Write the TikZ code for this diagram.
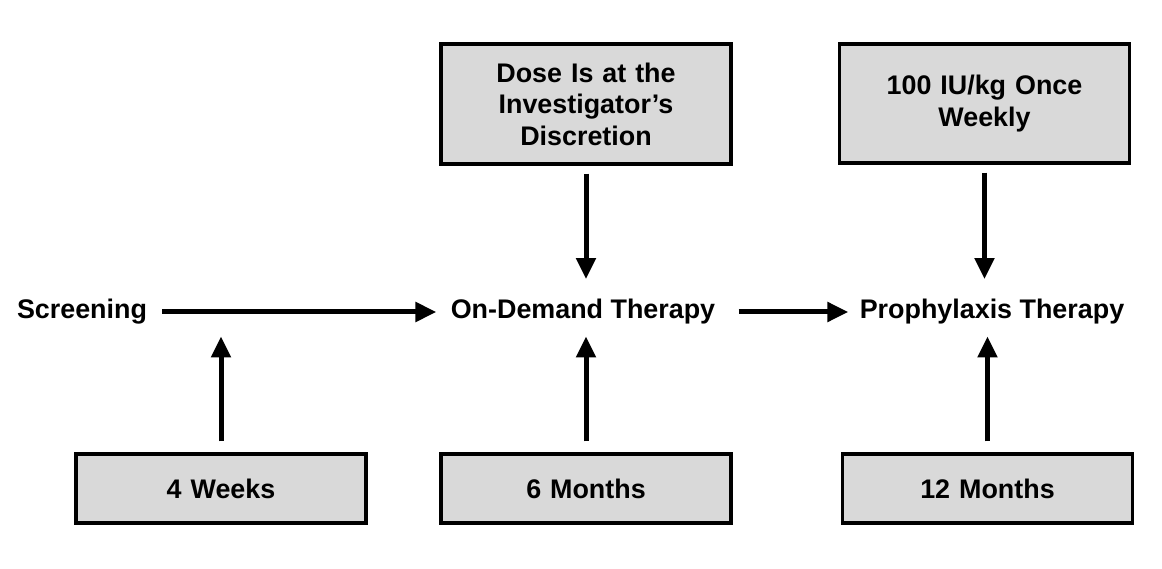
\documentclass[tikz,border=0pt]{standalone}
\usepackage{fontspec}
\setmainfont{Liberation Sans}
\usetikzlibrary{positioning, arrows.meta}
\definecolor{boxgrey}{HTML}{D9D9D9}

\begin{document}
\begin{tikzpicture}
    [
        node distance=10cm, on grid,
        grey_box/.style={rectangle, draw=black, fill=boxgrey, line width=0.07cm, minimum width=5.8cm, minimum height=1.38cm, inner sep=0pt, text width=5.6cm, align=center, font=\fontsize{15.3}{17.9}\selectfont\bfseries},
        flow_label/.style={inner sep=0.1cm, font=\fontsize{15.3}{17.9}\selectfont\bfseries},
        flow_arrow/.style={-{Triangle[length=0.42cm, width=0.38cm]}, line width=0.1cm, color=black},
    ]
        \useasboundingbox (0,0) rectangle (23.24,-11.38);
        % main flow
        \node[flow_label] (screening) at (1.64,-6.24) {Screening} ;
        \node[flow_label] (ondemand) [right = 10.02cm of screening] {On-Demand Therapy} ;
        \node[flow_label] (prophylaxis) [right = 8.18cm of ondemand] {Prophylaxis Therapy} ;
        % dose boxes
        \node[grey_box, minimum height=2.4cm] (dose) at (11.72,-2.08) {Dose Is at the\\Investigator's\\Discretion} ;
        \node[grey_box, minimum height=2.38cm] (weekly) at (19.69,-2.07) {100 IU/kg Once\\Weekly} ;
        % duration boxes
        \node[grey_box] (weeks) at (4.42,-9.77) {4 Weeks} ;
        \node[grey_box] (sixmonths) at (11.72,-9.77) {6 Months} ;
        \node[grey_box] (twelvemonths) at (19.75,-9.77) {12 Months} ;
        \draw[flow_arrow, shorten <=0.2cm, shorten >=0.18cm] (screening) to (ondemand) ;
        \draw[flow_arrow, shorten <=0.36cm, shorten >=0.12cm] (ondemand) to (prophylaxis) ;
        \draw[flow_arrow, shorten <=0.16cm, shorten >=0.3cm] (dose.south) to (dose.south |- ondemand.north) ;
        \draw[flow_arrow, shorten <=0.16cm, shorten >=0.3cm] (weekly.south) to (weekly.south |- prophylaxis.north) ;
        \draw[flow_arrow, shorten <=0.22cm, shorten >=0.13cm] (weeks.north) to (weeks.north |- screening.south) ;
        \draw[flow_arrow, shorten <=0.22cm, shorten >=0.13cm] (sixmonths.north) to (sixmonths.north |- ondemand.south) ;
        \draw[flow_arrow, shorten <=0.22cm, shorten >=0.13cm] (twelvemonths.north) to (twelvemonths.north |- prophylaxis.south) ;
    \end{tikzpicture}
\end{document}
